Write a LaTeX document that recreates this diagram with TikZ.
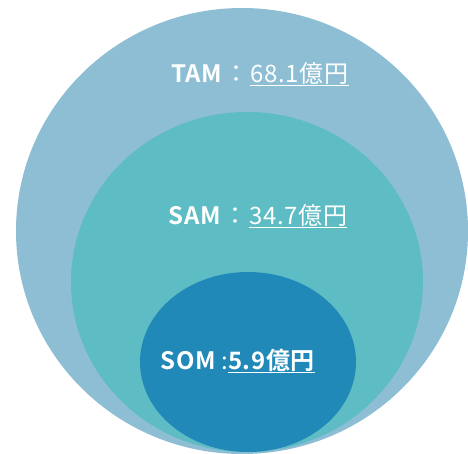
\documentclass[tikz,border=0pt]{standalone}
\usepackage{fontspec}
\setmainfont[LetterSpace=3]{Noto Sans CJK JP}
\newfontfamily\boldjp[LetterSpace=3]{Noto Sans CJK JP Bold}
\usepackage{tikz}
\definecolor{tamblue}{RGB}{141,190,212}
\definecolor{samteal}{RGB}{94,188,196}
\definecolor{somblue}{RGB}{33,137,183}
\tikzset{mkt/.style={text=white, font=\fontsize{24}{28}\selectfont, inner sep=1pt}}

\begin{document}
\begin{tikzpicture}[x=1pt, y=-1pt]
\useasboundingbox [fill=white] (0,0) rectangle (468,453);
\fill [tamblue] (242,231) ellipse (226 and 223);
\fill [samteal] (247,282) ellipse (176 and 170);
\fill [somblue] (248,362) ellipse (108 and 90);

\node [mkt] (tam) at (260,74) {{\boldjp TAM}\hspace{2pt}：\hspace{2pt}\underline{68.1億円}};
\node [mkt] (sam) at (258,216) {{\boldjp SAM}\hspace{2pt}：\hspace{2pt}\underline{34.7億円}};
\node [mkt] (som) at (238,361) {{\boldjp SOM}\hspace{5pt}:\underline{\boldjp 5.9億円}};
\end{tikzpicture}
\end{document}
